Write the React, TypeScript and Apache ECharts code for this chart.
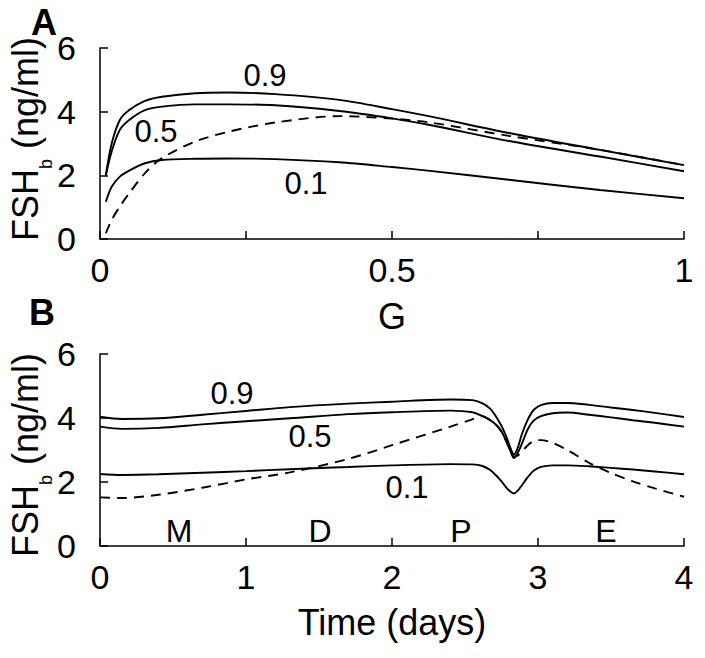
import React, { useEffect, useRef } from 'react';
import * as echarts from 'echarts';

// ---------- Data: panel A (FSH_b vs G) ----------
const G_VALUES = [0.01, 0.02, 0.034, 0.05, 0.077, 0.106, 0.163, 0.22, 0.3, 0.41, 0.5, 0.565, 0.7, 0.856, 1.0];
const A_FSH_09 = [2.0, 3.0, 3.74, 4.05, 4.34, 4.47, 4.58, 4.6, 4.55, 4.37, 4.08, 3.85, 3.33, 2.8, 2.32];
const A_FSH_05 = [2.0, 2.75, 3.43, 3.74, 4.05, 4.16, 4.23, 4.23, 4.2, 4.02, 3.79, 3.58, 3.08, 2.59, 2.13];
const A_FSH_01 = [1.17, 1.64, 1.96, 2.15, 2.38, 2.48, 2.52, 2.53, 2.51, 2.41, 2.26, 2.14, 1.86, 1.54, 1.28];
const A_FSH_DASH = [0.18, 0.6, 1.02, 1.44, 2.07, 2.54, 3.06, 3.37, 3.66, 3.86, 3.78, 3.66, 3.24, 2.8, 2.32];

// ---------- Data: panel B (FSH_b vs time) ----------
const T_VALUES = [0, 0.15, 0.4, 0.7, 1.0, 1.3, 1.7, 2.0, 2.4, 2.55, 2.62, 2.67, 2.71, 2.75, 2.78, 2.81, 2.835, 2.86, 2.89, 2.93, 2.97, 3.02, 3.1, 3.2, 3.35, 3.5, 3.65, 3.8, 4.0];
const B_FSH_09 = [4.04, 3.97, 3.99, 4.1, 4.22, 4.34, 4.45, 4.51, 4.58, 4.56, 4.46, 4.3, 4.06, 3.75, 3.45, 3.08, 2.86, 3.05, 3.5, 3.95, 4.25, 4.4, 4.47, 4.47, 4.41, 4.33, 4.25, 4.16, 4.03];
const B_FSH_05 = [3.73, 3.66, 3.69, 3.8, 3.9, 3.99, 4.12, 4.18, 4.23, 4.18, 4.06, 3.94, 3.8, 3.58, 3.3, 2.98, 2.75, 2.9, 3.2, 3.65, 3.92, 4.06, 4.15, 4.17, 4.1, 4.02, 3.93, 3.85, 3.73];
const B_FSH_01 = [2.25, 2.22, 2.24, 2.29, 2.34, 2.4, 2.47, 2.52, 2.56, 2.55, 2.5, 2.38, 2.22, 2.02, 1.84, 1.7, 1.64, 1.72, 1.9, 2.15, 2.35, 2.47, 2.52, 2.52, 2.49, 2.44, 2.39, 2.33, 2.24];
const B_FSH_DASH = [1.52, 1.5, 1.6, 1.82, 2.08, 2.3, 2.72, 3.15, 3.73, 3.96, 4.06, 3.94, 3.8, 3.58, 3.3, 3.0, 2.8, 2.82, 2.95, 3.15, 3.28, 3.31, 3.22, 3.0, 2.6, 2.28, 2.02, 1.8, 1.54];

// ---------- Tick labels ----------
const A_X_LABELED = [0, 0.5, 1];
const B_X_LABELS = ['0', '1', '2', '3', '4'];
const Y_LABELS = ['0', '2', '4', '6'];

// ---------- Annotations ----------
const CURVE_LABELS_A = ['0.9', '0.5', '0.1'];
const CURVE_LABELS_B = ['0.9', '0.5', '0.1'];
const PHASE_LABELS = ['M', 'D', 'P', 'E'];

const FONT = "'Liberation Sans', Arial, Helvetica, sans-serif";

const zip = (xs: number[], ys: number[]) => xs.map((x, i) => [x, ys[i]]);

export default function App() {
  const ref = useRef<HTMLDivElement>(null);

  useEffect(() => {
    if (!ref.current) return;
    const chart = echarts.init(ref.current, null, { renderer: 'svg' });

    const lineStyle = (dashed: boolean) => ({
      color: '#000',
      width: 1.9,
      type: dashed ? [10, 7] : 'solid',
    });

    const mkSeries = (name: string, xs: number[], ys: number[], idx: number, dashed: boolean) => ({
      name,
      type: 'line',
      xAxisIndex: idx,
      yAxisIndex: idx,
      data: zip(xs, ys),
      showSymbol: false,
      symbol: 'none',
      smooth: 0.3,
      lineStyle: lineStyle(dashed),
      silent: true,
      z: 3,
    });

    const axisCommon = {
      axisLine: { show: true, onZero: false, lineStyle: { color: '#000', width: 1.5 } },
      axisTick: { show: true, inside: true, length: 8, lineStyle: { color: '#000', width: 1.5 } },
      splitLine: { show: false },
    };

    const yAxis = (gridIndex: number) => ({
      type: 'value',
      gridIndex,
      min: 0,
      max: 6,
      interval: 2,
      ...axisCommon,
      axisLabel: {
        color: '#000',
        fontSize: 34,
        fontFamily: FONT,
        margin: 24,
        formatter: (v: number) => Y_LABELS[Math.round(v / 2)] ?? '',
      },
    });

    const txt = (text: string, x: number, y: number, fontSize: number, bold = false, extra: any = {}) => ({
      type: 'text',
      x,
      y,
      silent: true,
      z: 10,
      ...extra,
      style: {
        text,
        fontSize,
        fontFamily: FONT,
        fontWeight: bold ? 'bold' : 'normal',
        fill: '#000',
        align: extra.align ?? 'center',
        verticalAlign: 'middle',
      },
    });

    const yTitle = (startY: number) => {
      const main = 36;
      const sub = 18;
      const fshW = 2.0 * main;
      const subW = 0.556 * sub;
      return [
        { ...txt('FSH', 25, startY, main, false, { rotation: Math.PI / 2, align: 'left' }) },
        { ...txt('b', 46, startY - fshW, sub, false, { rotation: Math.PI / 2, align: 'left' }) },
        { ...txt(' (ng/ml)', 25, startY - fshW - subW, main, false, { rotation: Math.PI / 2, align: 'left' }) },
      ];
    };

    const xLabel = {
      color: '#000',
      fontSize: 34,
      fontFamily: FONT,
      margin: 14,
    };

    const option = {
      animation: false,
      backgroundColor: '#fff',
      grid: [
        { left: 100, top: 48, width: 584, height: 191 },
        { left: 100, top: 354, width: 584, height: 192 },
      ],
      xAxis: [
        {
          type: 'value',
          gridIndex: 0,
          min: 0,
          max: 1,
          interval: 0.25,
          ...axisCommon,
          axisLabel: {
            ...xLabel,
            showMinLabel: true,
            showMaxLabel: true,
            formatter: (v: number) => (A_X_LABELED.some((t) => Math.abs(t - v) < 1e-9) ? String(v) : ''),
          },
        },
        {
          type: 'value',
          gridIndex: 1,
          min: 0,
          max: 4,
          interval: 1,
          ...axisCommon,
          axisLabel: {
            ...xLabel,
            formatter: (v: number) => B_X_LABELS[Math.round(v)] ?? '',
          },
        },
      ],
      yAxis: [yAxis(0), yAxis(1)],
      series: [
        mkSeries('A 0.9', G_VALUES, A_FSH_09, 0, false),
        mkSeries('A 0.5', G_VALUES, A_FSH_05, 0, false),
        mkSeries('A 0.1', G_VALUES, A_FSH_01, 0, false),
        mkSeries('A dashed', G_VALUES, A_FSH_DASH, 0, true),
        mkSeries('B 0.9', T_VALUES, B_FSH_09, 1, false),
        mkSeries('B 0.5', T_VALUES, B_FSH_05, 1, false),
        mkSeries('B 0.1', T_VALUES, B_FSH_01, 1, false),
        mkSeries('B dashed', T_VALUES, B_FSH_DASH, 1, true),
      ],
      graphic: [
        txt('A', 44, 22, 36, true),
        txt('B', 42, 312, 36, true),
        txt(CURVE_LABELS_A[0], 265, 75, 31),
        txt(CURVE_LABELS_A[1], 156, 131, 31),
        txt(CURVE_LABELS_A[2], 306, 183, 31),
        txt(CURVE_LABELS_B[0], 232, 393, 31),
        txt(CURVE_LABELS_B[1], 310, 436, 31),
        txt(CURVE_LABELS_B[2], 407, 487, 31),
        txt(PHASE_LABELS[0], 179, 531, 32),
        txt(PHASE_LABELS[1], 320, 531, 32),
        txt(PHASE_LABELS[2], 461, 531, 32),
        txt(PHASE_LABELS[3], 606, 531, 32),
        txt('G', 392, 316, 36),
        txt('Time (days)', 392, 622, 36),
        ...yTitle(241),
        ...yTitle(557),
      ],
    };

    chart.setOption(option as any);
    return () => chart.dispose();
  }, []);

  return (
    <div
      ref={ref}
      style={{ position: 'absolute', left: 0, top: 0, width: 705, height: 658, background: '#fff' }}
    />
  );
}
